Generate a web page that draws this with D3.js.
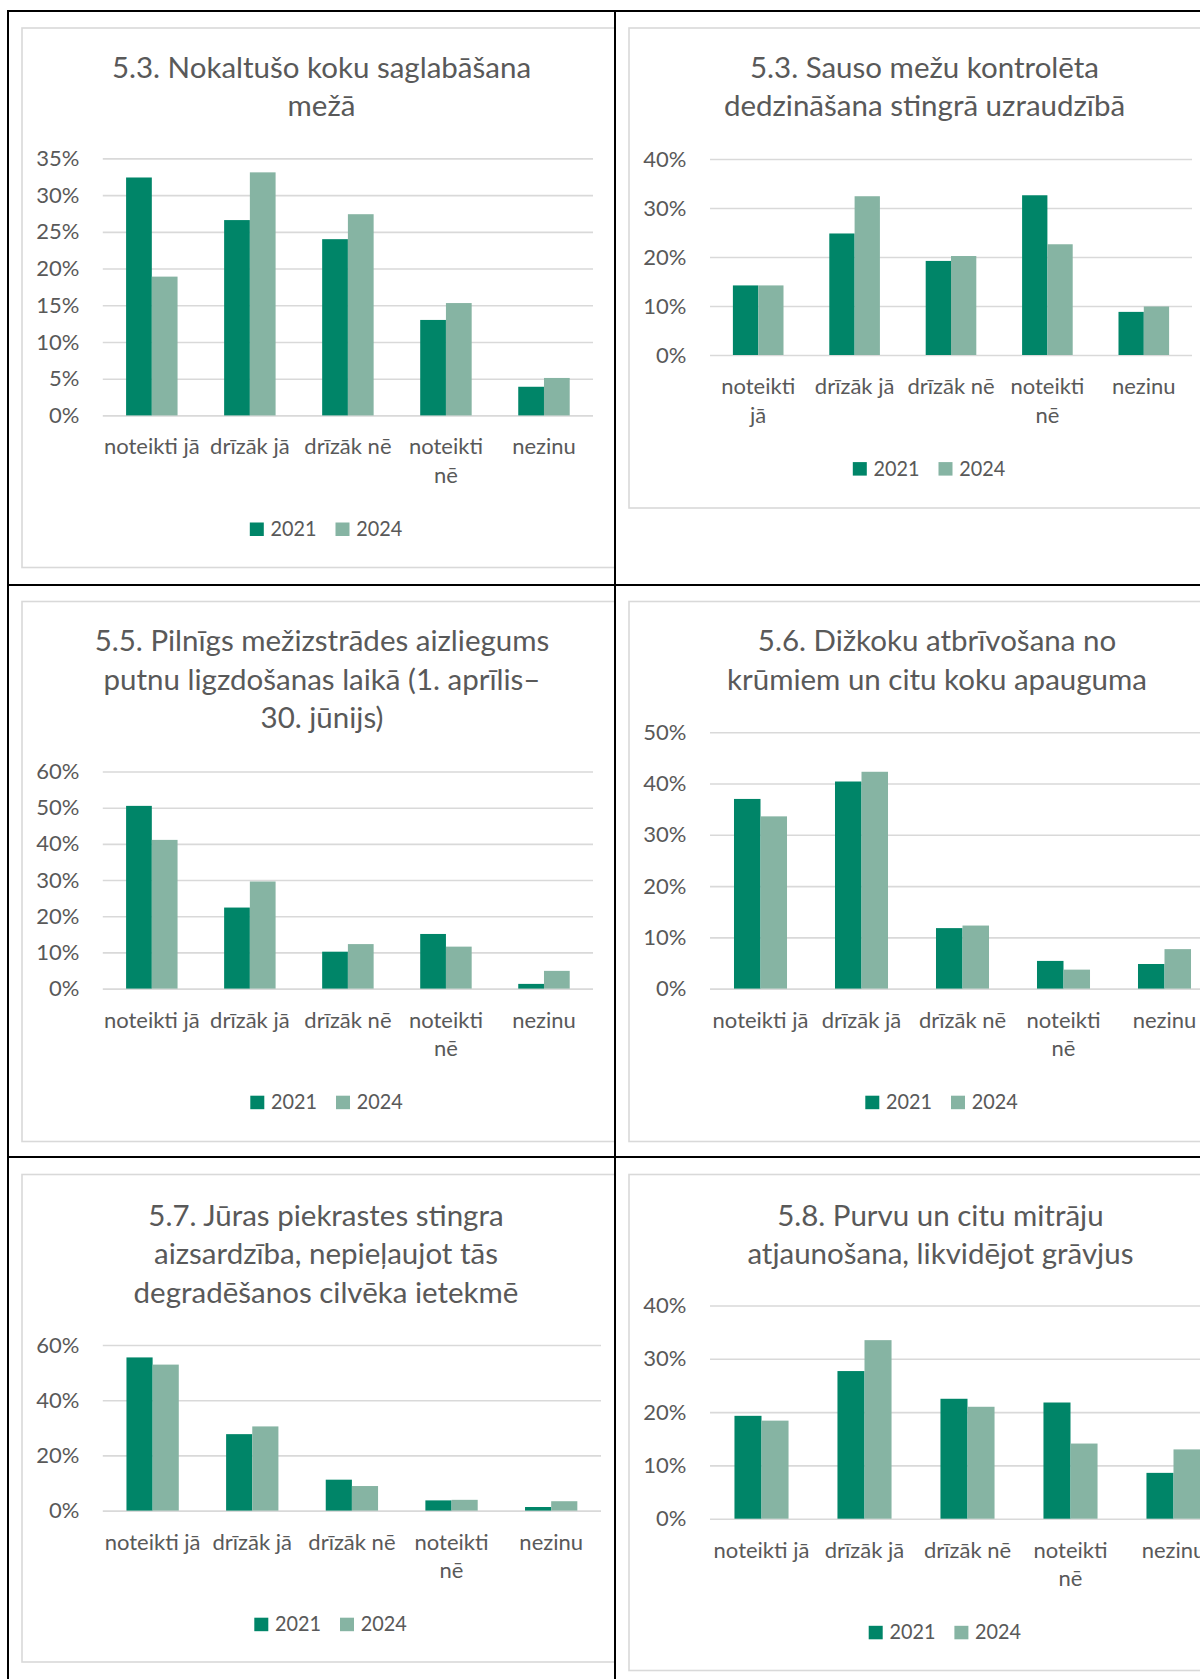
<!DOCTYPE html>
<html><head><meta charset="utf-8">
<script src="https://cdn.jsdelivr.net/npm/d3@7"></script>
<style>
html,body{margin:0;padding:0;background:#fff;}
svg{display:block;}
text{font-family:Lato,"Noto Sans",sans-serif;fill:#595959;}
</style></head><body>
<svg id="c" width="1200" height="1679"></svg>
<script>
// ---------- data ----------
const categories = ["noteikti jā", "drīzāk jā", "drīzāk nē", "noteikti nē", "nezinu"];
const seriesNames = ["2021", "2024"];

const title1 = ["5.3. Nokaltušo koku saglabāšana", "mežā"];
const title2 = ["5.3. Sauso mežu kontrolēta", "dedzināšana stingrā uzraudzībā"];
const title3 = ["5.5. Pilnīgs mežizstrādes aizliegums", "putnu ligzdošanas laikā (1. aprīlis–", "30. jūnijs)"];
const title4 = ["5.6. Dižkoku atbrīvošana no", "krūmiem un citu koku apauguma"];
const title5 = ["5.7. Jūras piekrastes stingra", "aizsardzība, nepieļaujot tās", "degradēšanos cilvēka ietekmē"];
const title6 = ["5.8. Purvu un citu mitrāju", "atjaunošana, likvidējot grāvjus"];

const chart1_2021 = [32.4, 26.6, 24.0, 13.0, 3.9];
const chart1_2024 = [18.9, 33.1, 27.4, 15.3, 5.1];
const chart2_2021 = [14.2, 24.8, 19.2, 32.6, 8.8];
const chart2_2024 = [14.2, 32.4, 20.2, 22.6, 9.9];
const chart3_2021 = [50.5, 22.4, 10.2, 15.1, 1.3];
const chart3_2024 = [41.1, 29.6, 12.3, 11.6, 4.9];
const chart4_2021 = [37.0, 40.4, 11.8, 5.4, 4.8];
const chart4_2024 = [33.6, 42.3, 12.3, 3.7, 7.7];
const chart5_2021 = [55.5, 27.7, 11.2, 3.7, 1.3];
const chart5_2024 = [52.9, 30.5, 8.9, 3.9, 3.4];
const chart6_2021 = [19.3, 27.7, 22.5, 21.8, 8.6];
const chart6_2024 = [18.4, 33.5, 21.0, 14.1, 13.0];

const ticks1 = [0, 5, 10, 15, 20, 25, 30, 35];
const ticks2 = [0, 10, 20, 30, 40];
const ticks3 = [0, 10, 20, 30, 40, 50, 60];
const ticks4 = [0, 10, 20, 30, 40, 50];
const ticks5 = [0, 20, 40, 60];
const ticks6 = [0, 10, 20, 30, 40];

// categories that wrap onto two lines in each chart
const wrap1 = ["noteikti nē"];
const wrap2 = ["noteikti jā", "noteikti nē"];
const wrap3 = ["noteikti nē"];
const wrap4 = ["noteikti nē"];
const wrap5 = ["noteikti nē"];
const wrap6 = ["noteikti nē"];

// ---------- layout ----------
const colors = ["#008568", "#86B4A3"];
const cells = [
  {x: 9, y: 12, w: 605, h: 572},
  {x: 616, y: 12, w: 584, h: 572},
  {x: 9, y: 586, w: 605, h: 570},
  {x: 616, y: 586, w: 584, h: 570},
  {x: 9, y: 1158, w: 605, h: 521},
  {x: 616, y: 1158, w: 584, h: 521}
];
const charts = [
  {cell: 0, title: title1, s1: chart1_2021, s2: chart1_2024, ticks: ticks1, wrap: wrap1,
   frame: [22, 28, 600, 539.5], px: [102.8, 593], y0: 415.4, yTop: 158.4, tY: 78, tX: 321.5},
  {cell: 1, title: title2, s1: chart2_2021, s2: chart2_2024, ticks: ticks2, wrap: wrap2,
   frame: [629, 28, 591, 480], px: [710, 1192], y0: 355, yTop: 159, tY: 78, tX: 924.5},
  {cell: 2, title: title3, s1: chart3_2021, s2: chart3_2024, ticks: ticks3, wrap: wrap3,
   frame: [22, 601.5, 600, 540], px: [102.8, 593], y0: 988.6, yTop: 771.5, tY: 651.4, tX: 322},
  {cell: 3, title: title4, s1: chart4_2021, s2: chart4_2024, ticks: ticks4, wrap: wrap4,
   frame: [629, 601.5, 616, 540], px: [710, 1215], y0: 988.6, yTop: 732.3, tY: 651.4, tX: 937},
  {cell: 4, title: title5, s1: chart5_2021, s2: chart5_2024, ticks: ticks5, wrap: wrap5,
   frame: [22, 1174.5, 608, 487.5], px: [102.8, 601], y0: 1510.6, yTop: 1345, tY: 1226, tX: 326},
  {cell: 5, title: title6, s1: chart6_2021, s2: chart6_2024, ticks: ticks6, wrap: wrap6,
   frame: [629, 1174.5, 622, 496], px: [710, 1225], y0: 1518.7, yTop: 1305.5, tY: 1226, tX: 940.4}
];

const TITLE_FS = 29.5, LABEL_FS = 22;

const svg = d3.select("#c");
const defs = svg.append("defs");
cells.forEach((c, i) => {
  defs.append("clipPath").attr("id", "clip" + i)
    .append("rect").attr("x", c.x).attr("y", c.y).attr("width", c.w).attr("height", c.h);
});

charts.forEach((ch, i) => {
  const g = svg.append("g").attr("clip-path", `url(#clip${ch.cell})`);
  const [fx, fy, fw, fh] = ch.frame;
  g.append("rect").attr("x", fx).attr("y", fy).attr("width", fw).attr("height", fh)
    .attr("fill", "#fff").attr("stroke", "#D9D9D9").attr("stroke-width", 1.6);

  // title
  const t = g.append("text").attr("text-anchor", "middle").attr("font-size", TITLE_FS);
  ch.title.forEach((line, k) => {
    t.append("tspan").attr("x", ch.tX).attr("y", ch.tY + k * 38.3).text(line);
  });

  const maxV = ch.ticks[ch.ticks.length - 1];
  const y = d3.scaleLinear().domain([0, maxV]).range([ch.y0, ch.yTop]);
  const x = d3.scaleBand().domain(categories).range(ch.px).paddingInner(0).paddingOuter(0);
  const B = x.bandwidth();
  const inner = d3.scaleBand().domain(seriesNames).range([0.2375 * B, 0.7625 * B]).padding(0);

  // y axis with gridlines
  const ya = g.append("g").attr("transform", `translate(${ch.px[0]},0)`)
    .call(d3.axisLeft(y).tickValues(ch.ticks).tickSize(-(ch.px[1] - ch.px[0]))
      .tickPadding(23.5).tickFormat(d => d + "%"));
  ya.select(".domain").remove();
  ya.selectAll(".tick line").attr("stroke", "#D9D9D9").attr("stroke-width", 1.6);
  ya.selectAll(".tick text").attr("font-size", LABEL_FS).attr("fill", "#595959")
    .style("font-family", "Lato, 'Noto Sans', sans-serif");

  // bars
  const rows = categories.map((c, j) => ({cat: c, vals: [ch.s1[j], ch.s2[j]]}));
  const grp = g.append("g").selectAll("g").data(rows).join("g")
    .attr("transform", d => `translate(${x(d.cat)},0)`);
  grp.selectAll("rect").data(d => d.vals.map((v, k) => ({k, v}))).join("rect")
    .attr("x", d => inner(seriesNames[d.k]))
    .attr("width", inner.bandwidth())
    .attr("y", d => y(d.v))
    .attr("height", d => y(0) - y(d.v))
    .attr("fill", d => colors[d.k]);

  // category labels
  const xa = g.append("g").attr("transform", `translate(0,${ch.y0})`)
    .call(d3.axisBottom(x).tickSize(0).tickPadding(0));
  xa.select(".domain").remove();
  xa.selectAll(".tick text").each(function(d) {
    const el = d3.select(this);
    el.text(null).attr("font-size", LABEL_FS).attr("fill", "#595959").attr("dy", null)
      .attr("y", 0).style("font-family", "Lato, 'Noto Sans', sans-serif");
    const lines = ch.wrap.includes(d) ? d.split(" ") : [d];
    lines.forEach((ln, k) => {
      el.append("tspan").attr("x", 0).attr("y", 39 + k * 28.6).text(ln);
    });
  });

  // legend
  const lg = g.append("g");
  const ly = ch.y0 + 120.6;
  const items = seriesNames.map((s, k) => {
    const it = lg.append("g");
    it.append("rect").attr("width", 14).attr("height", 13.5).attr("y", ly - 13.5).attr("fill", colors[k]);
    it.append("text").attr("x", 20.7).attr("y", ly).attr("font-size", LABEL_FS)
      .attr("textLength", 46).attr("lengthAdjust", "spacingAndGlyphs").text(s);
    return {it, w: 20.7 + 46};
  });
  const gap = 19;
  const total = items.reduce((a, b) => a + b.w, 0) + gap * (items.length - 1);
  let cx = ch.tX + 4.5 - total / 2;
  items.forEach(o => { o.it.attr("transform", `translate(${cx},0)`); cx += o.w + gap; });
});

// table borders
const border = svg.append("g").attr("stroke", "#000").attr("stroke-width", 2);
[[8, 10, 8, 1679], [615, 10, 615, 1679], [7, 11, 1200, 11], [7, 585, 1200, 585], [7, 1157, 1200, 1157]]
  .forEach(l => border.append("line").attr("x1", l[0]).attr("y1", l[1]).attr("x2", l[2]).attr("y2", l[3]));
</script>
</body></html>
